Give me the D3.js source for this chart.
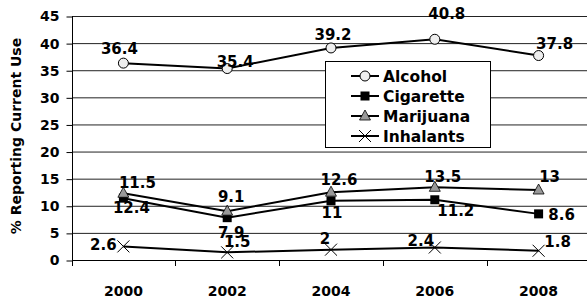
<!DOCTYPE html>
<html>
<head>
<meta charset="utf-8">
<script src="https://cdn.jsdelivr.net/npm/d3@7"></script>
<style>
  body { margin: 0; background: #fff; }
  text { font-family: "DejaVu Sans", Arial, sans-serif; font-weight: bold; fill: #000; }
</style>
</head>
<body>
<svg width="587" height="300"></svg>
<script>
var years = ["2000", "2002", "2004", "2006", "2008"];
var alcohol = [36.4, 35.4, 39.2, 40.8, 37.8];
var cigarette = [11.5, 7.9, 11, 11.2, 8.6];
var marijuana = [12.4, 9.1, 12.6, 13.5, 13];
var inhalants = [2.6, 1.5, 2, 2.4, 1.8];
// label texts as printed on the chart
var alcoholLabels = ["36.4", "35.4", "39.2", "40.8", "37.8"];
var cigaretteLabels = ["12.4", "7.9", "11", "11.2", "8.6"];
var marijuanaLabels = ["11.5", "9.1", "12.6", "13.5", "13"];
var inhalantLabels = ["2.6", "1.5", "2", "2.4", "1.8"];
var yTicks = [0, 5, 10, 15, 20, 25, 30, 35, 40, 45];

// label nudges (dx, dy from the point)
var alcoholOff = [[-4, -9], [8, -2], [2, -8], [12, -20], [16, -7]];
var cigaretteOff = [[8, 15], [4, 20], [1, 17], [21, 16], [23, 6]];
var marijuanaOff = [[14, -5], [4, -9], [8, -7], [8, -5], [11, -8]];
var inhalantOff = [[-20, 4], [10, -5], [-6, -6], [-14, -1], [19, -4]];

var svg = d3.select("svg");

var x = d3.scaleBand().domain(years).range([71.5, 590.5]).padding(0);
var y = d3.scaleLinear().domain([0, 45]).range([260.5, 16.5]);

// gridlines
svg.append("g")
    .selectAll("line")
    .data(yTicks.filter(function(d) { return d > 0; }))
    .enter().append("line")
    .attr("x1", 72).attr("x2", 587)
    .attr("y1", function(d) { return y(d); })
    .attr("y2", function(d) { return y(d); })
    .attr("stroke", "#222")
    .attr("stroke-width", 1);

// y axis
var yAxis = svg.append("g")
    .attr("transform", "translate(72.5,0)")
    .call(d3.axisLeft(y).tickValues(yTicks).tickSize(6).tickPadding(7));
yAxis.select(".domain").remove();
yAxis.selectAll(".tick line").attr("stroke", "#000");
yAxis.selectAll(".tick text").style("font-size", "14px").style("font-family", "DejaVu Sans, Arial, sans-serif").style("font-weight", "bold");
svg.append("line")
    .attr("x1", 72.5).attr("x2", 72.5)
    .attr("y1", 16).attr("y2", 266)
    .attr("stroke", "#000");

// x axis
var xAxis = svg.append("g")
    .attr("transform", "translate(0,260.5)")
    .call(d3.axisBottom(x).tickSize(0).tickPadding(26));
xAxis.select(".domain").attr("stroke", "#000").attr("d", "M72,0H587");
xAxis.selectAll(".tick text").style("font-size", "14px").style("font-family", "DejaVu Sans, Arial, sans-serif").style("font-weight", "bold");
svg.append("g")
    .selectAll("line")
    .data(years.slice(1))
    .enter().append("line")
    .attr("x1", function(d) { return Math.round(x(d)) + 0.5; })
    .attr("x2", function(d) { return Math.round(x(d)) + 0.5; })
    .attr("y1", 260.5).attr("y2", 266)
    .attr("stroke", "#000");

function cx(i) { return x(years[i]) + x.bandwidth() / 2; }

var line = d3.line()
    .x(function(d, i) { return cx(i); })
    .y(function(d) { return y(d); });

var series = [
    { name: "Alcohol", values: alcohol, labels: alcoholLabels, off: alcoholOff, marker: "circle" },
    { name: "Cigarette", values: cigarette, labels: cigaretteLabels, off: cigaretteOff, marker: "square" },
    { name: "Marijuana", values: marijuana, labels: marijuanaLabels, off: marijuanaOff, marker: "triangle" },
    { name: "Inhalants", values: inhalants, labels: inhalantLabels, off: inhalantOff, marker: "x" }
];

function drawMarker(g, type, px, py) {
    if (type == "circle") {
        g.append("circle").attr("cx", px).attr("cy", py).attr("r", 5)
            .attr("fill", "#eeeeee").attr("stroke", "#000").attr("stroke-width", 1);
    } else if (type == "square") {
        g.append("rect").attr("x", px - 4.5).attr("y", py - 4.5).attr("width", 9).attr("height", 9)
            .attr("fill", "#000");
    } else if (type == "triangle") {
        g.append("path")
            .attr("d", "M" + px + "," + (py - 6) + "L" + (px + 5.5) + "," + (py + 4) + "L" + (px - 5.5) + "," + (py + 4) + "Z")
            .attr("fill", "#999").attr("stroke", "#000").attr("stroke-width", 0.8);
    } else if (type == "x") {
        g.append("path")
            .attr("d", "M" + (px - 6) + "," + (py - 6) + "L" + (px + 6) + "," + (py + 6) + "M" + (px + 6) + "," + (py - 6) + "L" + (px - 6) + "," + (py + 6))
            .attr("stroke", "#000").attr("stroke-width", 1);
    }
}

var plot = svg.append("g");
series.forEach(function(s) {
    plot.append("path")
        .datum(s.values)
        .attr("d", line)
        .attr("fill", "none")
        .attr("stroke", "#000")
        .attr("stroke-width", 2);
});
series.forEach(function(s) {
    var g = plot.append("g");
    s.values.forEach(function(v, i) {
        drawMarker(g, s.marker, cx(i), y(v));
    });
});
series.forEach(function(s) {
    plot.append("g")
        .selectAll("text")
        .data(s.values)
        .enter().append("text")
        .attr("x", function(d, i) { return cx(i) + s.off[i][0]; })
        .attr("y", function(d, i) { return y(d) + s.off[i][1]; })
        .attr("text-anchor", "middle")
        .style("font-size", "15px")
        .text(function(d, i) { return s.labels[i]; });
});

// legend
var legend = svg.append("g");
legend.append("rect")
    .attr("x", 325.5).attr("y", 61.5).attr("width", 165).attr("height", 86)
    .attr("fill", "#fff").attr("stroke", "#000");
series.forEach(function(s, i) {
    var ly = 76 + i * 20;
    legend.append("line")
        .attr("x1", 351).attr("x2", 379)
        .attr("y1", ly).attr("y2", ly)
        .attr("stroke", "#000").attr("stroke-width", 2);
    drawMarker(legend, s.marker, 365, ly);
    legend.append("text")
        .attr("x", 383).attr("y", ly + 5.5)
        .style("font-size", "15.5px")
        .text(s.name);
});

// y title
svg.append("text")
    .attr("transform", "translate(21,136) rotate(-90)")
    .attr("text-anchor", "middle")
    .style("font-size", "14px")
    .text("% Reporting Current Use");
</script>
</body>
</html>
